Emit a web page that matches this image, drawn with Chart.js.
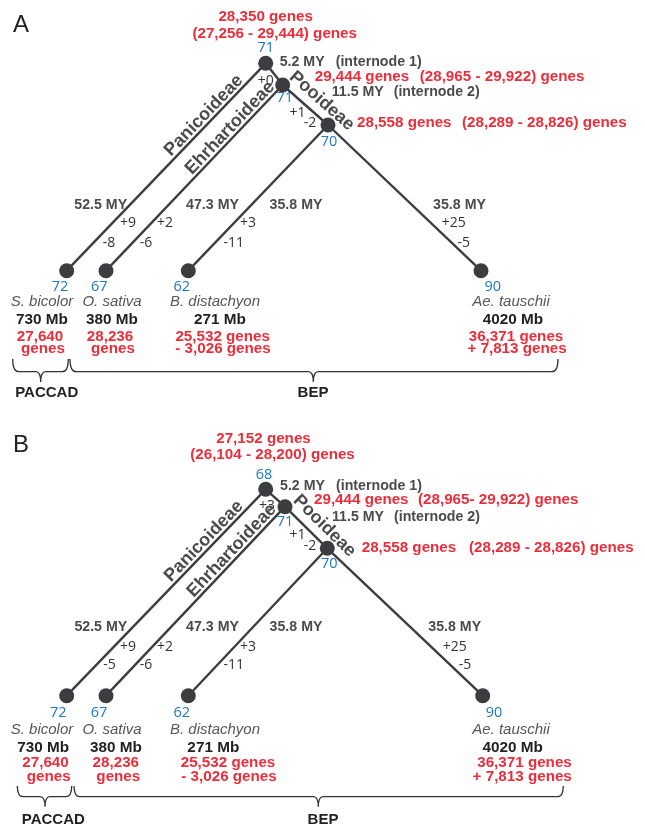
<!DOCTYPE html>
<html>
<head>
<meta charset="utf-8">
<script src="https://cdn.jsdelivr.net/npm/chart.js@4.4.1/dist/chart.umd.min.js"></script>
<style>
  html, body { margin: 0; padding: 0; background: #fff; }
  canvas { display: block; }
</style>
</head>
<body>
<canvas id="tree" width="645" height="829"></canvas>
<script>
// ---------- data ----------
const panelIds = ['A', 'B'];
const taxa = ['S. bicolor', 'O. sativa', 'B. distachyon', 'Ae. tauschii'];
const genomeMb = [730, 380, 271, 4020];
const leafGenes = [27640, 28236, 25532, 36371];
const leafGeneDelta = [null, null, -3026, 7813];
const leafCount = [72, 67, 62, 90];
const terminalBranchMY = [52.5, 47.3, 35.8, 35.8];
const internodeMY = [5.2, 11.5];
const clades = ['Panicoideae', 'Ehrhartoideae', 'Pooideae'];
const groups = ['PACCAD', 'BEP'];

// ancestral nodes: root, BEP ancestor, Pooideae ancestor
const rootGenes = [28350, 27152];
const rootGenesRange = [[27256, 29444], [26104, 28200]];
const rootCount = [71, 68];
const bepGenes = [29444, 29444];
const bepGenesRange = [[28965, 29922], [28965, 29922]];
const bepRangeSep = [' - ', '- '];
const bepCount = [71, 71];
const pooGenes = [28558, 28558];
const pooGenesRange = [[28289, 28826], [28289, 28826]];
const pooCount = [70, 70];

// gains / losses
const internode1Gain = [0, 3];
const internode2Gain = [1, 1];
const internode2Loss = [-2, -2];
const leafGainA = [9, 2, 3, 25];
const leafLossA = [-8, -6, -11, -5];
const leafGainB = [9, 2, 3, 25];
const leafLossB = [-5, -6, -11, -5];

// ---------- tree layout (chart units) ----------
// node order: root, BEP, Pooideae, S. bicolor, O. sativa, B. distachyon, Ae. tauschii
const edges = [[0, 3], [0, 1], [1, 4], [1, 2], [2, 5], [2, 6]];
const nodeXA = [265.7, 282.7, 328, 66.7, 106, 188.3, 481];
const nodeYA = [63.3, 85, 125, 270.7, 270.7, 270.7, 270.7];
const nodeXB = [265.7, 285, 327.3, 66.7, 106, 188.3, 482.7];
const nodeYB = [489.3, 506.7, 548.3, 695.7, 695.7, 695.7, 695.7];

const layoutA = {
  letter: [13, 25],
  rootTop: [0, -46], rootRange: [9, -29], rootNum: [0, -15], rootMY: [14, -1], rootNote: [70, -1],
  bepGain: [-17, -4], bepNum: [2, 13], bepGenes: [32, -8], bepRange: [137, -8], bepMY: [49, 7], bepNote: [111, 7],
  pooGain: [-30.5, -12], pooLoss: [-18, -2], pooNum: [1, 17], pooGenes: [29, -2], pooRange: [134, -2],
  branchDy: [-66, -48, -28],
  branchMYx: [100.7, 212.5, 296, 459.5], gainX: [128, 165, 248, 453.7], lossX: [109, 146, 233.7, 463.8],
  leafDy: [16.3, 31.3, 49.3, 66.3, 78.3],
  numX: [60, 99.3, 181.7, 492.7], spX: [42, 112, 215, 511], mbX: [42, 112, 220, 513],
  g1X: [40, 110, 222.7, 516], g2X: [43, 113, 223, 517],
  brace: { top: 359, mid: 371.7, tip: 382, spans: [[12.7, 68.3, 40.7], [70, 558, 313.3]] },
  groupY: 393, groupX: [46.7, 313],
  clade: [{ t: 0.72, off: 8.5 }, { t: 0.737, off: 8.5 }, { t: 0.66, off: 14 }]
};
const layoutB = {
  letter: [13, 445],
  rootTop: [-2.2, -50], rootRange: [6.8, -34.3], rootNum: [-1.7, -14.3], rootMY: [14.3, -3.3], rootNote: [70.3, -3.3],
  bepGain: [-18, -0.7], bepNum: [0, 15], bepGenes: [29, -6.7], bepRange: [133, -6.7], bepMY: [47, 10], bepNote: [109, 10],
  pooGain: [-29.8, -13.3], pooLoss: [-17.3, -2.3], pooNum: [2, 15.7], pooGenes: [34.4, 0], pooRange: [141.7, 0],
  branchDy: [-69, -48.4, -30.7],
  branchMYx: [100.8, 212.5, 296, 454.7], gainX: [128, 165, 248, 454.7], lossX: [109.5, 146, 233.7, 465],
  leafDy: [17.3, 34.3, 52, 67, 80.8],
  numX: [58.3, 99, 181.7, 494], spX: [42, 112, 215, 511], mbX: [43.2, 116, 213.3, 512.7],
  g1X: [45.5, 115.8, 228, 524.5], g2X: [48.7, 118.3, 229, 522.2],
  brace: { top: 786, mid: 796.7, tip: 806.7, spans: [[17.3, 71.7, 45], [74, 563.3, 318.3]] },
  groupY: 820, groupX: [53.3, 323],
  clade: [{ t: 0.72, off: 8.5 }, { t: 0.737, off: 8.5 }, { t: 0.7, off: 14 }]
};

const panels = [
  { k: 0, nodeX: nodeXA, nodeY: nodeYA, gain: leafGainA, loss: leafLossA, lay: layoutA },
  { k: 1, nodeX: nodeXB, nodeY: nodeYB, gain: leafGainB, loss: leafLossB, lay: layoutB }
];

// ---------- styles ----------
const SANS = '"Liberation Sans", Arial, Helvetica, sans-serif';
const NUM = '"Open Sans", "Noto Sans", sans-serif';
const COL = {
  red: '#ec2e3b', blue: '#1f78c0', grey: '#4b4b4b', dark: '#222222',
  ink: '#333333', species: '#575757', line: '#3c3d40'
};
const F = {
  red: `bold 15.2px ${SANS}`, my: `bold 14.2px ${SANS}`, num: `14.5px ${NUM}`, pm: `14px ${NUM}`,
  species: `italic 15px ${SANS}`, mb: `bold 15.3px ${SANS}`, clade: `bold 18px ${SANS}`,
  group: `bold 15px ${SANS}`, panel: `24px ${SANS}`
};

const fmt = n => n.toLocaleString('en-US');
const signed = n => (n >= 0 ? '+' : '') + n;
const range = (r, sep) => `(${fmt(r[0])}${sep}${fmt(r[1])}) genes`;

function buildLabels(p) {
  const k = p.k, o = p.lay, L = [];
  const at = (i, d) => [p.nodeX[i] + d[0], p.nodeY[i] + d[1]];
  const add = (text, pos, font, color, align = 'center') =>
    L.push({ text, x: pos[0], y: pos[1], font, color, align });

  add(panelIds[k], o.letter, F.panel, COL.dark, 'left');

  // root
  add(`${fmt(rootGenes[k])} genes`, at(0, o.rootTop), F.red, COL.red);
  add(range(rootGenesRange[k], ' - '), at(0, o.rootRange), F.red, COL.red);
  add(String(rootCount[k]), at(0, o.rootNum), F.num, COL.blue);
  add(`${internodeMY[0]} MY`, at(0, o.rootMY), F.my, COL.grey, 'left');
  add('(internode 1)', at(0, o.rootNote), F.my, COL.grey, 'left');

  // BEP ancestor
  add(signed(internode1Gain[k]), at(1, o.bepGain), F.pm, COL.ink);
  add(String(bepCount[k]), at(1, o.bepNum), F.num, COL.blue);
  add(`${fmt(bepGenes[k])} genes`, at(1, o.bepGenes), F.red, COL.red, 'left');
  add(range(bepGenesRange[k], bepRangeSep[k]), at(1, o.bepRange), F.red, COL.red, 'left');
  add(`${internodeMY[1]} MY`, at(1, o.bepMY), F.my, COL.grey, 'left');
  add('(internode 2)', at(1, o.bepNote), F.my, COL.grey, 'left');

  // Pooideae ancestor
  add(signed(internode2Gain[k]), at(2, o.pooGain), F.pm, COL.ink);
  add(String(internode2Loss[k]), at(2, o.pooLoss), F.pm, COL.ink);
  add(String(pooCount[k]), at(2, o.pooNum), F.num, COL.blue);
  add(`${fmt(pooGenes[k])} genes`, at(2, o.pooGenes), F.red, COL.red, 'left');
  add(range(pooGenesRange[k], ' - '), at(2, o.pooRange), F.red, COL.red, 'left');

  // terminal branches and leaves
  taxa.forEach((name, i) => {
    const ly = p.nodeY[3 + i];
    add(`${terminalBranchMY[i]} MY`, [o.branchMYx[i], ly + o.branchDy[0]], F.my, COL.grey);
    add(signed(p.gain[i]), [o.gainX[i], ly + o.branchDy[1]], F.pm, COL.ink);
    add(String(p.loss[i]), [o.lossX[i], ly + o.branchDy[2]], F.pm, COL.ink);

    add(String(leafCount[i]), [o.numX[i], ly + o.leafDy[0]], F.num, COL.blue);
    add(name, [o.spX[i], ly + o.leafDy[1]], F.species, COL.species);
    add(`${genomeMb[i]} Mb`, [o.mbX[i], ly + o.leafDy[2]], F.mb, COL.dark);
    const d = leafGeneDelta[i];
    if (d === null) {
      add(fmt(leafGenes[i]), [o.g1X[i], ly + o.leafDy[3]], F.red, COL.red);
      add('genes', [o.g2X[i], ly + o.leafDy[4]], F.red, COL.red);
    } else {
      add(`${fmt(leafGenes[i])} genes`, [o.g1X[i], ly + o.leafDy[3]], F.red, COL.red);
      add(`${d < 0 ? '-' : '+'} ${fmt(Math.abs(d))} genes`, [o.g2X[i], ly + o.leafDy[4]], F.red, COL.red);
    }
  });

  groups.forEach((g, i) => add(g, [o.groupX[i], o.groupY], F.group, COL.dark));
  return L;
}

// clade names run along these edges: [from, to]
const cladeEdges = [[3, 0], [4, 1], [1, 2]];

const treeText = {
  id: 'treeText',
  afterDatasetsDraw(chart) {
    const { ctx, scales: { x, y } } = chart;
    const X = v => x.getPixelForValue(v), Y = v => y.getPixelForValue(v);
    ctx.save();
    panels.forEach(p => {
      const o = p.lay;
      // group braces
      ctx.strokeStyle = '#333';
      ctx.lineWidth = 1.3;
      o.brace.spans.forEach(([a, b, c]) => {
        const top = Y(o.brace.top), mid = Y(o.brace.mid), tip = Y(o.brace.tip);
        const xa = X(a), xb = X(b), xc = X(c);
        ctx.beginPath();
        ctx.moveTo(xa, top);
        ctx.quadraticCurveTo(xa, mid, xa + 6, mid);
        ctx.lineTo(xc - 5, mid);
        ctx.quadraticCurveTo(xc, mid, xc, tip);
        ctx.quadraticCurveTo(xc, mid, xc + 5, mid);
        ctx.lineTo(xb - 6, mid);
        ctx.quadraticCurveTo(xb, mid, xb, top);
        ctx.stroke();
      });

      // text labels
      ctx.textBaseline = 'middle';
      buildLabels(p).forEach(l => {
        ctx.font = l.font;
        ctx.fillStyle = l.color;
        ctx.textAlign = l.align;
        ctx.fillText(l.text, X(l.x), Y(l.y));
      });

      // clade names along branches
      cladeEdges.forEach(([s, e], i) => {
        const x0 = X(p.nodeX[s]), y0 = Y(p.nodeY[s]);
        const x1 = X(p.nodeX[e]), y1 = Y(p.nodeY[e]);
        const a = Math.atan2(y1 - y0, x1 - x0);
        const { t, off } = o.clade[i];
        const cx = x0 + (x1 - x0) * t + Math.sin(a) * off;
        const cy = y0 + (y1 - y0) * t - Math.cos(a) * off;
        ctx.save();
        ctx.translate(cx, cy);
        ctx.rotate(a);
        ctx.font = F.clade;
        ctx.fillStyle = COL.grey;
        ctx.textAlign = 'center';
        ctx.fillText(clades[i], 0, 0);
        ctx.restore();
      });
    });
    ctx.restore();
  }
};

// ---------- datasets ----------
const datasets = [];
panels.forEach(p => {
  datasets.push({
    label: `nodes ${panelIds[p.k]}`,
    data: p.nodeX.map((v, i) => ({ x: v, y: p.nodeY[i] })),
    pointRadius: 7.5,
    pointBackgroundColor: COL.line,
    pointBorderWidth: 0,
    showLine: false,
    order: 0
  });
  edges.forEach(([a, b]) => {
    datasets.push({
      label: `edge ${panelIds[p.k]} ${a}-${b}`,
      data: [{ x: p.nodeX[a], y: p.nodeY[a] }, { x: p.nodeX[b], y: p.nodeY[b] }],
      showLine: true,
      borderColor: COL.line,
      borderWidth: 2.4,
      pointRadius: 0,
      order: 1
    });
  });
});

new Chart(document.getElementById('tree'), {
  type: 'scatter',
  data: { datasets },
  options: {
    responsive: false,
    devicePixelRatio: 1,
    animation: false,
    events: [],
    layout: { padding: 0, autoPadding: false },
    scales: {
      x: { type: 'linear', min: 0, max: 645, display: false },
      y: { type: 'linear', min: 0, max: 829, reverse: true, display: false }
    },
    plugins: { legend: { display: false }, tooltip: { enabled: false } }
  },
  plugins: [treeText]
});
</script>
</body>
</html>
